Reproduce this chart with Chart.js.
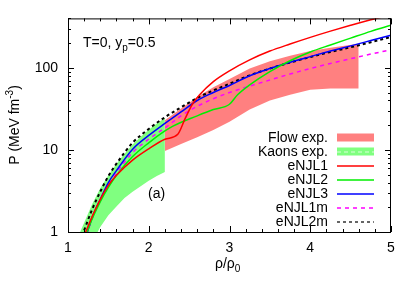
<!DOCTYPE html>
<html>
<head>
<meta charset="utf-8">
<script src="https://cdn.jsdelivr.net/npm/chart.js@4.4.1/dist/chart.umd.min.js"></script>
<style>
  html, body { margin: 0; padding: 0; background: #fff; }
  #wrap { width: 415px; height: 291px; }
</style>
</head>
<body>
<div id="wrap"><canvas id="eos" width="415" height="291"></canvas></div>
<script>
// rho/rho0 and pressure (MeV fm^-3)
const flowRho = [2.2, 2.4, 2.6, 2.8, 3.0, 3.25, 3.5, 3.75, 4.0, 4.25, 4.6];
const flowHigh = [23, 32, 44, 58, 73, 98, 120, 140, 160, 176, 197];
const flowLow = [9.7, 11.8, 14.3, 17.5, 22, 31, 40, 47, 54, 56, 56];

const kaonRho = [1.15, 1.2, 1.3, 1.4, 1.5, 1.6, 1.7, 1.8, 1.9, 2.0, 2.1, 2.2];
const kaonHigh = [1.0, 1.3, 2.2, 3.4, 4.9, 6.8, 9.0, 11.6, 14.5, 17.6, 21, 24.5];
const kaonLow = [0.3, 0.45, 0.75, 1.15, 1.6, 2.05, 2.6, 3.1, 3.6, 4.2, 4.8, 5.4];

const njl1Rho = [1.2, 1.3, 1.4, 1.5, 1.6, 1.8, 2.0, 2.2, 2.36, 2.45, 2.54, 2.63, 2.8, 3.0, 3.25, 3.5, 3.75, 4.0, 4.25, 4.5, 4.75, 5.0];
const njl1P = [0.9, 1.55, 2.5, 3.7, 4.9, 7.5, 10.3, 13.5, 15.5, 24, 36, 47, 68, 92, 125, 160, 195, 235, 280, 330, 385, 440];

const njl2Rho = [1.2, 1.3, 1.4, 1.5, 1.6, 1.8, 2.0, 2.2, 2.3, 2.6, 2.8, 3.0, 3.1, 3.25, 3.5, 3.75, 4.0, 4.25, 4.5, 4.75, 5.0];
const njl2P = [0.8, 1.45, 2.35, 3.5, 4.9, 8.3, 12.2, 17, 19.5, 26, 31, 36, 47, 62, 90, 122, 156, 190, 230, 278, 330];

const njlRho = [1.2, 1.3, 1.4, 1.5, 1.6, 1.8, 2.0, 2.2, 2.4, 2.6, 2.8, 3.0, 3.25, 3.5, 3.75, 4.0, 4.25, 4.5, 4.75, 5.0];
const njl3P = [0.75, 1.5, 2.5, 4.0, 5.6, 10.2, 15, 21, 29, 40, 50, 61, 80, 98, 117, 137, 160, 185, 215, 250];
const njl1mP = [0.75, 1.45, 2.4, 3.7, 5.2, 9.3, 13.5, 18.5, 26, 34, 42, 50, 60, 71, 84, 98, 113, 129, 147, 166];
const njl2mP = [1.05, 1.9, 3.1, 4.8, 6.8, 12.2, 18, 25, 33, 43, 53, 64, 81, 98, 116, 135, 156, 178, 205, 237];

const xTicks = [1, 2, 3, 4, 5];
const yTicks = [1, 10, 100];

const pts = (xs, ys) => xs.map((x, i) => ({ x: x, y: ys[i] }));

const band = (label, xs, ys, color, fill, order) => ({
  label: label, data: pts(xs, ys), borderWidth: 0, borderColor: 'rgba(0,0,0,0)',
  backgroundColor: color, fill: fill, pointRadius: 0, tension: 0, order: order, clip: 0
});
const curve = (label, xs, ys, color, dash, width) => ({
  label: label, data: pts(xs, ys), borderColor: color, borderWidth: width,
  borderDash: dash, fill: false, pointRadius: 0, cubicInterpolationMode: 'monotone',
  order: 0, clip: 0
});

const FONT = '"Liberation Sans", Arial, sans-serif';

const decor = {
  id: 'decor',
  afterDraw(chart) {
    const { ctx, chartArea: a, scales: { x, y } } = chart;
    ctx.save();
    ctx.strokeStyle = '#000';
    ctx.lineWidth = 1;
    ctx.strokeRect(a.left + 0.5, a.top + 0.5, a.right - a.left - 1, a.bottom - a.top);

    // inward ticks on all four sides
    ctx.beginPath();
    for (let v = 1; v <= 5.0001; v += 0.2) {
      const px = Math.round(x.getPixelForValue(v)) + 0.5;
      const len = Math.abs(v - Math.round(v)) < 1e-6 ? 6 : 3;
      ctx.moveTo(px, a.bottom); ctx.lineTo(px, a.bottom - len);
      ctx.moveTo(px, a.top); ctx.lineTo(px, a.top + len);
    }
    for (let d = 1; d <= 100; d *= 10) {
      for (let m = 1; m <= 9; m++) {
        const v = d * m;
        if (v > y.max) break;
        const py = Math.round(y.getPixelForValue(v)) + 0.5;
        const len = m === 1 ? 6 : 3;
        ctx.moveTo(a.left, py); ctx.lineTo(a.left + len, py);
        ctx.moveTo(a.right, py); ctx.lineTo(a.right - len, py);
      }
    }
    ctx.stroke();

    ctx.fillStyle = '#000';
    ctx.textBaseline = 'alphabetic';
    ctx.textAlign = 'left';
    // label inside the plot
    ctx.font = '14px ' + FONT;
    let t = 'T=0, y';
    ctx.fillText(t, 83, 47);
    let w = ctx.measureText(t).width;
    ctx.font = '10px ' + FONT;
    ctx.fillText('p', 83 + w, 51);
    const wp = ctx.measureText('p').width;
    ctx.font = '14px ' + FONT;
    ctx.fillText('=0.5', 83 + w + wp, 47);
    ctx.fillText('(a)', 148, 198);

    // x title
    ctx.fillText('\u03C1/\u03C1', 215, 268);
    w = ctx.measureText('\u03C1/\u03C1').width;
    ctx.font = '10px ' + FONT;
    ctx.fillText('0', 215 + w, 272);

    // y title
    ctx.save();
    ctx.translate(19, 125);
    ctx.rotate(-Math.PI / 2);
    const a1 = 'P (MeV fm', a2 = '-3', a3 = ')';
    ctx.font = '10px ' + FONT;
    const w2 = ctx.measureText(a2).width;
    ctx.font = '14px ' + FONT;
    const w1 = ctx.measureText(a1).width, w3 = ctx.measureText(a3).width;
    let sx = -(w1 + w2 + w3) / 2;
    ctx.fillText(a1, sx, 0);
    ctx.font = '10px ' + FONT;
    ctx.fillText(a2, sx + w1, -6);
    ctx.font = '14px ' + FONT;
    ctx.fillText(a3, sx + w1 + w2, 0);
    ctx.restore();

    // legend: text right aligned, sample on the right
    ctx.font = '14px ' + FONT;
    ctx.textAlign = 'right';
    ctx.textBaseline = 'middle';
    const rows = chart.data.datasets.filter(ds => ds.legendRow !== undefined)
      .sort((p, q) => p.legendRow - q.legendRow);
    rows.forEach((ds, i) => {
      const yy = 137.5 + i * 14;
      ctx.fillStyle = '#000';
      ctx.fillText(ds.label, 328, yy + 1);
      if (ds.legendBox) {
        ctx.fillStyle = ds.backgroundColor;
        ctx.fillRect(337, yy - 4, 37, 8);
        if (ds.legendStripe) {
          ctx.strokeStyle = '#d8ffd8';
          ctx.lineWidth = 1;
          ctx.setLineDash([4, 3]);
          ctx.beginPath();
          ctx.moveTo(337, yy + 0.5); ctx.lineTo(374, yy + 0.5);
          ctx.stroke();
          ctx.setLineDash([]);
        }
      } else {
        ctx.strokeStyle = ds.borderColor;
        ctx.lineWidth = ds.legendWidth || ds.borderWidth;
        ctx.setLineDash(ds.borderDash || []);
        ctx.beginPath();
        ctx.moveTo(337, yy + 0.5); ctx.lineTo(374, yy + 0.5);
        ctx.stroke();
        ctx.setLineDash([]);
      }
    });
    ctx.restore();
  }
};

const flowTop = band('Flow exp.', flowRho, flowHigh, '#ff8080', '+1', 3);
flowTop.legendRow = 0; flowTop.legendBox = true;
const flowBottom = band('flow-low', flowRho, flowLow, '#ff8080', false, 3);
const kaonTop = band('Kaons exp.', kaonRho, kaonHigh, '#80ff80', '+1', 2);
kaonTop.legendRow = 1; kaonTop.legendBox = true; kaonTop.legendStripe = true;
const kaonBottom = band('kaon-low', kaonRho, kaonLow, '#80ff80', false, 2);

const l1 = curve('eNJL1', njl1Rho, njl1P, '#ff0000', [], 1.5); l1.legendRow = 2;
const l2 = curve('eNJL2', njl2Rho, njl2P, '#00ee00', [], 1.5); l2.legendRow = 3;
const l3 = curve('eNJL3', njlRho, njl3P, '#0000ff', [], 1.5); l3.legendRow = 4;
const l1m = curve('eNJL1m', njlRho, njl1mP, '#ff00ff', [4, 4], 1.5); l1m.legendRow = 5;
const l2m = curve('eNJL2m', njlRho, njl2mP, '#000000', [3, 3], 2); l2m.legendRow = 6; l2m.legendWidth = 1.2;

new Chart(document.getElementById('eos').getContext('2d'), {
  type: 'line',
  data: { datasets: [flowTop, flowBottom, kaonTop, kaonBottom, l1, l2, l3, l1m, l2m] },
  options: {
    responsive: false,
    animation: false,
    layout: { padding: { left: 0, right: 24, top: 17, bottom: 0 } },
    plugins: { legend: { display: false }, tooltip: { enabled: false } },
    scales: {
      x: {
        type: 'linear', min: 1, max: 5,
        afterFit: s => { s.height = 59; },
        afterBuildTicks: s => { s.ticks = xTicks.map(v => ({ value: v })); },
        grid: { display: false, drawTicks: false },
        border: { display: false },
        ticks: { padding: 8, color: '#000', font: { family: FONT, size: 14 }, callback: v => String(v) }
      },
      y: {
        type: 'logarithmic', min: 1, max: 400,
        afterFit: s => { s.width = 68; },
        afterBuildTicks: s => { s.ticks = yTicks.map(v => ({ value: v })); },
        grid: { display: false, drawTicks: false },
        border: { display: false },
        ticks: { padding: 10, color: '#000', font: { family: FONT, size: 14 }, callback: v => String(v) }
      }
    }
  },
  plugins: [decor]
});
</script>
</body>
</html>
